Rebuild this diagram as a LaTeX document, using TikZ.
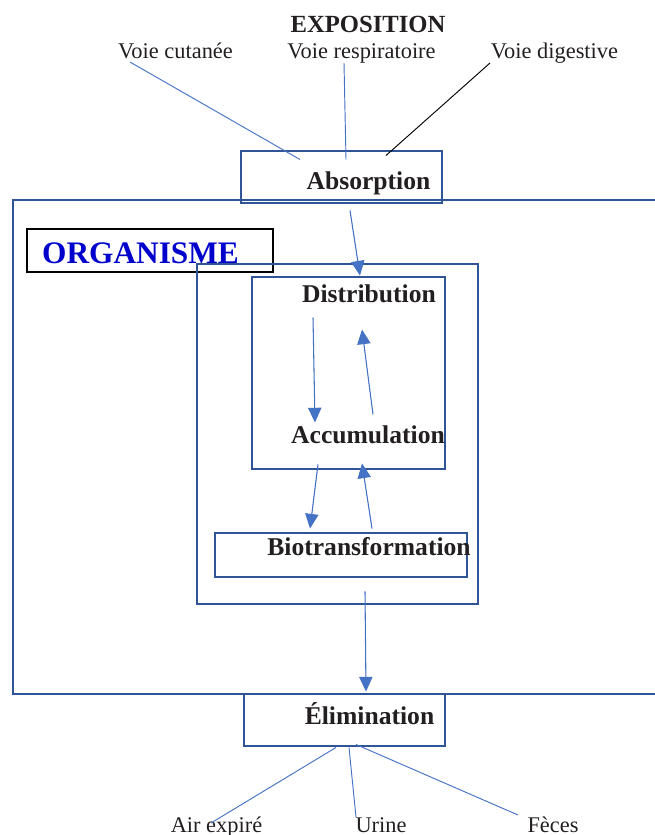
\documentclass[tikz,border=0pt]{standalone}
\usepackage{fontspec}
\setmainfont{Liberation Serif}
\usetikzlibrary{arrows.meta,calc}
\definecolor{boxblue}{HTML}{2F5597}
\definecolor{flowblue}{HTML}{4472C4}
\definecolor{orgblue}{HTML}{0000CC}
\definecolor{inkdark}{HTML}{231F20}

\begin{document}
\begin{tikzpicture}[x=0.75pt, y=-0.75pt,
  box/.style={draw=boxblue, line width=2.2pt, inner sep=0pt},
  route/.style={font=\fontsize{16.8}{18}\selectfont, text=inkdark, inner sep=0pt, anchor=base},
  stage/.style={font=\bfseries\fontsize{19.2}{21}\selectfont, text=inkdark, inner sep=0pt, anchor=base},
  ar/.style={-{Triangle[length=11pt,width=10pt]}, draw=flowblue, fill=flowblue, line width=0.8pt},
  ln/.style={draw=flowblue, line width=0.7pt}]
\useasboundingbox (0,0) rectangle (655,835);

% exposure routes
\node[stage, font=\bfseries\fontsize{18.5}{21}\selectfont] (expo) at (368,32) {EXPOSITION};
\node[route] (vcut) at (175.5,58) {Voie cutanée};
\node[route] (vresp) at (361.5,58) {Voie respiratoire};
\node[route] (vdig) at (554.5,58) {Voie digestive};

% boxes
\node[box, minimum width=150.75pt, minimum height=39pt] (absbox) at (341.5,177) {};
\draw[boxblue, line width=2.2pt] (655,200) -| (13,694) -- (655,694);
\node[draw=black, line width=1.6pt, inner sep=0pt, minimum width=184.5pt, minimum height=32.25pt] (orgbox) at (150,250.5) {};
\node[box, minimum width=210.75pt, minimum height=255pt] (body) at (337.5,434) {};
\node[box, minimum width=144.75pt, minimum height=144pt] (inner) at (348.5,373) {};
\node[box, minimum width=189pt, minimum height=33pt] (biobox) at (341,555) {};
\node[box, minimum width=150.75pt, minimum height=39pt] (elimbox) at (344.5,720) {};

% labels
\node[stage] (absl) at (368.5,189) {Absorption};
\node[stage, text=orgblue, font=\bfseries\fontsize{23.5}{26}\selectfont] (orgl) at (140.5,263) {ORGANISME};
\node[stage] (distl) at (369,302) {Distribution};
\node[stage] (accl) at (368,443) {Accumulation};
\node[stage] (biol) at (369,555) {Biotransformation};
\node[stage] (eliml) at (369.5,724) {Élimination};
\node[route] (airl) at (216.5,832) {Air expiré};
\node[route] (urinel) at (381,832) {Urine};
\node[route] (fecesl) at (553,832) {Fèces};

% entry lines
\draw[ln] ($(vcut.base)+(-45.5,4)$) -- ($(absbox.north)+(-41.5,10)$);
\draw[ln] ($(vresp.base)+(-17.5,5)$) -- ($(absbox.north)+(4.5,10)$);
\draw[black, line width=0.7pt] ($(vdig.base)+(-64.5,5)$) -- ($(absbox.north)+(44.5,6)$);

% flows
\draw[ar] ($(absbox.south)+(8.5,6)$) -- ($(inner.north)+(11.5,0)$);
\draw[ar] ($(inner.north)+(-35.5,42)$) -- ($(inner.south)+(-33.5,-48)$);
\draw[ar] ($(inner.south)+(24.5,-56)$) -- ($(inner.north)+(13.5,54)$);
\draw[ar] ($(inner.south)+(-30.5,-6)$) -- ($(biobox.north)+(-31,-3)$);
\draw[ar] ($(biobox.north)+(31,-3)$) -- ($(inner.south)+(13.5,-7)$);
\draw[ar] ($(body.south)+(27.5,-14)$) -- ($(elimbox.north)+(21.5,-1)$);

% exit lines
\draw[ln] ($(elimbox.south)+(-8.5,0)$) -- ($(airl.base)+(-5.5,-9)$);
\draw[ln] ($(elimbox.south)+(4.5,0)$) -- ($(urinel.base)+(-25,-15)$);
\draw[ln] ($(elimbox.south)+(11.5,-3)$) -- ($(fecesl.base)+(-35,-17)$);
\end{tikzpicture}
\end{document}
